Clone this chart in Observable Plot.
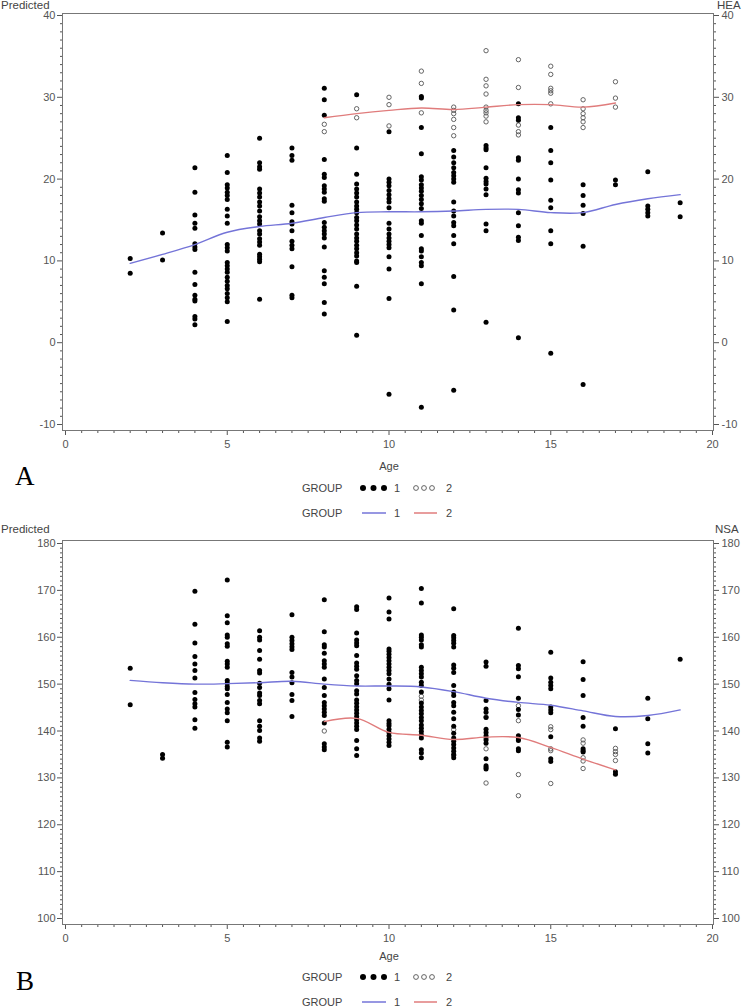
<!DOCTYPE html>
<html>
<head>
<meta charset="utf-8">
<script src="https://cdn.jsdelivr.net/npm/d3@7"></script>
<script src="https://cdn.jsdelivr.net/npm/@observablehq/plot@0.6"></script>
<style>
  html, body { margin: 0; padding: 0; background: #fff; }
  #wrap { position: relative; width: 747px; height: 1008px; overflow: hidden;
          font-family: "Liberation Sans", Arial, sans-serif; color: #444; }
  .abs { position: absolute; line-height: 1; white-space: nowrap; }
  .lbl { font-size: 11.5px; }
  .small { font-size: 11px; }
  .panel { font-family: "Liberation Serif", "Times New Roman", serif; font-size: 27px; color: #000; }
  .plot { position: absolute; left: 0; }
</style>
</head>
<body>
<div id="wrap"></div>
<script>
// ---------- Panel A (HEA) ----------
const xTicks = [0, 5, 10, 15, 20];
const heaTicks = [-10, 0, 10, 20, 30, 40];
const heaAges1 = [2, 3, 4, 5, 6, 7, 8, 9, 10, 11, 12, 13, 14, 15, 16, 17, 18, 19];
const heaG1 = [
  [10.3, 8.5],
  [13.4, 10.1],
  [21.4, 18.4, 15.6, 14.6, 14.0, 12.1, 11.7, 11.4, 8.6, 7.1, 5.8, 5.3, 5.1, 3.2, 2.9, 2.2],
  [22.9, 20.8, 19.3, 18.9, 18.4, 18.0, 17.5, 16.3, 15.5, 14.6, 12.0, 11.6, 11.2, 9.8, 9.4, 9.0, 8.6, 8.0, 7.5, 7.0, 6.6, 6.0, 5.5, 5.0, 2.6],
  [25.0, 22.0, 21.5, 21.2, 18.8, 18.3, 17.8, 17.2, 16.7, 16.1, 15.4, 14.9, 14.5, 13.7, 13.3, 12.7, 12.3, 11.9, 10.8, 10.5, 10.2, 9.9, 5.3],
  [23.8, 22.9, 22.3, 16.8, 15.9, 14.8, 14.5, 13.7, 12.4, 11.9, 11.5, 9.3, 5.8, 5.5],
  [31.1, 29.7, 27.8, 22.4, 20.6, 20.2, 19.2, 18.8, 18.4, 17.6, 17.3, 14.7, 14.1, 13.7, 13.3, 12.8, 11.7, 8.8, 8.0, 7.2, 4.9, 3.5],
  [30.3, 23.8, 20.6, 19.4, 18.8, 18.3, 17.8, 17.2, 16.7, 16.3, 15.9, 15.3, 14.9, 14.4, 13.9, 13.3, 12.8, 12.4, 11.9, 11.5, 11.0, 10.6, 10.0, 9.8, 6.9, 0.9],
  [25.8, 20.0, 19.6, 19.2, 18.6, 18.1, 17.6, 17.2, 16.5, 14.6, 13.9, 13.3, 12.8, 12.4, 12.0, 11.6, 10.5, 9.0, 5.4, -6.3],
  [30.1, 29.9, 26.3, 23.1, 20.3, 19.9, 19.3, 18.9, 18.5, 18.0, 17.5, 17.0, 16.4, 14.9, 14.6, 13.1, 11.5, 11.2, 10.5, 9.8, 9.4, 7.2, -7.9],
  [23.5, 22.7, 22.0, 21.4, 20.8, 20.4, 20.0, 19.6, 17.2, 16.1, 15.5, 14.7, 14.3, 13.1, 12.1, 8.1, 4.0, -5.8],
  [24.1, 23.8, 23.6, 21.4, 20.1, 19.7, 19.4, 18.8, 18.1, 14.5, 13.7, 2.5],
  [29.2, 27.5, 27.2, 22.6, 22.3, 20.0, 18.7, 18.3, 15.9, 14.3, 12.9, 12.5, 0.6],
  [26.3, 23.5, 22.0, 19.9, 17.4, 16.5, 13.7, 12.1, -1.3],
  [19.3, 18.0, 16.8, 15.8, 11.8, -5.1],
  [19.9, 19.3],
  [20.9, 16.7, 16.3, 15.9, 15.5],
  [17.1, 15.4]
];
const heaAges2 = [8, 9, 10, 11, 12, 13, 14, 15, 16, 17];
const heaG2 = [
  [26.7, 25.8],
  [28.6, 27.5],
  [30.0, 29.1, 26.5],
  [33.2, 31.7, 28.1],
  [28.8, 28.4, 28.0, 27.3, 26.3, 25.3],
  [35.7, 32.2, 31.4, 30.4, 28.8, 28.4, 28.1, 27.7, 27.0],
  [34.6, 31.2, 26.6, 25.8, 25.4],
  [33.8, 32.8, 31.1, 30.8, 30.5, 29.2],
  [29.7, 28.6, 28.0, 27.5, 27.0, 26.3],
  [31.9, 29.9, 28.8]
];
const heaFit1 = [9.7, 10.8, 12.0, 13.5, 14.2, 14.6, 15.3, 15.9, 16.0, 16.0, 16.1, 16.3, 16.3, 15.9, 15.9, 16.9, 17.6, 18.1];
const heaFit2 = [27.5, 28.0, 28.4, 28.7, 28.5, 28.8, 29.1, 29.1, 28.8, 29.3];

// ---------- Panel B (NSA) ----------
const nsaTicks = [100, 110, 120, 130, 140, 150, 160, 170, 180];
const nsaAges1 = [2, 3, 4, 5, 6, 7, 8, 9, 10, 11, 12, 13, 14, 15, 16, 17, 18, 19];
const nsaG1 = [
  [153.4, 145.6],
  [135.0, 134.2],
  [169.8, 162.8, 158.8, 155.9, 154.3, 152.9, 151.3, 148.2, 146.7, 145.8, 145.1, 142.4, 140.6],
  [172.2, 164.6, 163.1, 160.5, 160.0, 158.6, 158.1, 154.9, 154.3, 153.6, 150.8, 150.2, 149.5, 149.0, 147.8, 146.1, 144.7, 143.9, 142.2, 137.6, 136.6],
  [161.4, 160.0, 159.4, 157.2, 155.3, 152.9, 152.4, 150.2, 149.3, 148.1, 147.6, 146.5, 145.8, 142.2, 141.0, 140.1, 138.5, 137.8],
  [164.8, 160.0, 159.3, 158.6, 158.0, 157.4, 152.5, 151.5, 150.3, 147.8, 146.5, 143.1],
  [168.0, 161.2, 158.4, 157.9, 156.6, 155.0, 154.3, 153.6, 151.1, 149.3, 147.6, 146.1, 145.4, 144.7, 144.0, 143.3, 141.7, 137.3, 136.6, 136.0],
  [166.5, 165.9, 160.9, 159.4, 158.8, 158.2, 156.1, 154.5, 153.8, 153.2, 151.8, 150.8, 150.1, 148.6, 147.9, 146.6, 145.9, 145.2, 144.5, 143.8, 143.1, 142.4, 141.7, 141.0, 140.3, 138.0, 136.2, 134.8],
  [168.4, 165.4, 163.9, 157.5, 157.0, 156.4, 155.7, 155.0, 154.3, 153.6, 152.9, 152.2, 151.1, 150.0, 149.0, 146.6, 142.2, 141.6, 141.1, 140.4, 139.7, 139.0, 138.3, 137.6, 136.9],
  [170.4, 167.3, 160.5, 160.0, 159.4, 158.4, 157.9, 153.6, 152.9, 152.2, 151.5, 150.4, 149.7, 148.3, 146.0, 145.1, 144.4, 143.7, 142.9, 142.2, 141.3, 140.6, 139.9, 139.2, 138.5, 136.0, 135.3, 134.3],
  [166.1, 160.4, 159.9, 159.3, 158.7, 157.9, 154.1, 153.4, 152.5, 149.7, 148.3, 147.6, 146.1, 145.4, 144.0, 142.6, 141.0, 139.5, 138.5, 137.8, 137.1, 136.4, 135.7, 135.0, 134.3],
  [154.7, 153.8, 146.5, 144.7, 144.0, 142.9, 140.4, 139.7, 139.0, 138.1, 137.4, 134.1, 132.6, 132.2, 131.9],
  [161.9, 154.0, 153.3, 151.6, 147.0, 144.6, 143.4, 139.0, 138.3, 138.0, 136.2, 135.8],
  [156.8, 151.3, 150.4, 149.7, 149.0, 145.1, 144.5, 143.9, 138.8, 134.1, 133.5],
  [154.8, 151.0, 147.6, 142.9, 141.0, 136.2, 135.8, 135.5],
  [140.5, 131.3, 130.8],
  [147.0, 142.6, 137.3, 135.3],
  [155.3]
];
const nsaAges2 = [8, 11, 12, 13, 14, 15, 16, 17];
const nsaG2 = [
  [140.0],
  [147.4, 146.6],
  [140.3, 134.8],
  [143.0, 138.5, 136.2, 128.9],
  [145.4, 142.2, 130.7, 126.2],
  [140.9, 140.3, 136.2, 135.8, 128.8],
  [138.1, 137.4, 134.3, 133.6, 132.0],
  [136.3, 135.6, 135.0, 133.7]
];
const nsaFit1 = [150.8, 150.3, 150.0, 150.1, 150.3, 150.6, 150.0, 149.6, 149.6, 149.4, 148.4, 147.0, 146.1, 145.5, 144.3, 143.1, 143.3, 144.5];
const nsaFit2 = [142.0, 142.7, 139.7, 139.1, 138.2, 138.7, 138.6, 136.5, 134.0, 131.7];
const nsaFitAges2 = [8, 9, 10, 11, 12, 13, 14, 15, 16, 17];

// ---------- helpers ----------
const blue = "#7474d8";
const red = "#e07c7c";
const flat = (ages, vals) => ages.flatMap((a, i) => vals[i].map(v => ({age: a, value: v})));
const pairs = (ages, vals) => ages.map((a, i) => ({age: a, value: vals[i]}));
const fmt = d => String(d);

function panel(o) {
  const minorY = d3.range(o.yMin, o.yMax + 0.001, 1).filter(v => (v - o.yMin) % 10 !== 0);
  const minorX = d3.range(0, 20.001, 0.5).filter(v => v % 5 !== 0);
  const svg = Plot.plot({
    width: 747,
    height: o.height,
    marginLeft: 62,
    marginRight: 34,
    marginTop: o.marginTop,
    marginBottom: o.marginBottom,
    x: {domain: [0, 20], insetLeft: 3, insetRight: 1},
    y: {domain: [o.yMin, o.yMax], insetTop: o.insetTop, insetBottom: o.insetBottom},
    style: {fontFamily: "'Liberation Sans', Arial, sans-serif", fontSize: "11px", color: "#555", background: "transparent"},
    marks: [
      Plot.axisX({ticks: xTicks, tickSize: 5, tickPadding: 5, tickFormat: fmt, label: null}),
      Plot.axisX({ticks: minorX, tickSize: 3, tickFormat: () => "", label: null}),
      Plot.axisY({anchor: "left", ticks: o.yTicks, tickSize: 5, tickPadding: 2, tickFormat: fmt, label: null}),
      Plot.axisY({anchor: "left", ticks: minorY, tickSize: 2, tickFormat: () => "", label: null}),
      Plot.axisY({anchor: "right", ticks: o.yTicks, tickSize: 5, tickPadding: 3, tickFormat: fmt, label: null}),
      Plot.axisY({anchor: "right", ticks: minorY, tickSize: 2, tickFormat: () => "", label: null}),
      Plot.frame({stroke: "#777", strokeWidth: 1}),
      Plot.dot(o.g2, {x: "age", y: "value", r: 2.2, stroke: "#555", strokeWidth: 0.9, fill: "none"}),
      Plot.dot(o.g1, {x: "age", y: "value", r: 2.5, fill: "#000", stroke: "none"}),
      Plot.line(o.fit1, {x: "age", y: "value", stroke: blue, strokeWidth: 1.4, curve: "catmull-rom"}),
      Plot.line(o.fit2, {x: "age", y: "value", stroke: red, strokeWidth: 1.4, curve: "catmull-rom"})
    ]
  });
  svg.classList.add("plot");
  svg.style.top = o.top + "px";
  return svg;
}

const wrap = document.getElementById("wrap");

wrap.appendChild(panel({
  top: 0, height: 475, marginTop: 13, marginBottom: 45, insetTop: 2, insetBottom: 6,
  yMin: -10, yMax: 40, yTicks: heaTicks,
  g1: flat(heaAges1, heaG1), g2: flat(heaAges2, heaG2),
  fit1: pairs(heaAges1, heaFit1), fit2: pairs(heaAges2, heaFit2)
}));

wrap.appendChild(panel({
  top: 530, height: 445, marginTop: 10, marginBottom: 51, insetTop: 3, insetBottom: 6,
  yMin: 100, yMax: 180, yTicks: nsaTicks,
  g1: flat(nsaAges1, nsaG1), g2: flat(nsaAges2, nsaG2),
  fit1: pairs(nsaAges1, nsaFit1), fit2: pairs(nsaFitAges2, nsaFit2)
}));

function addText(txt, cls, left, top, center) {
  const d = document.createElement("div");
  d.className = "abs " + cls;
  d.textContent = txt;
  d.style.left = left + "px";
  d.style.top = top + "px";
  if (center) d.style.transform = "translateX(-50%)";
  wrap.appendChild(d);
  return d;
}

function addSvg(left, top, w, h, inner) {
  const ns = "http://www.w3.org/2000/svg";
  const s = document.createElementNS(ns, "svg");
  s.setAttribute("width", w);
  s.setAttribute("height", h);
  s.style.position = "absolute";
  s.style.left = left + "px";
  s.style.top = top + "px";
  s.innerHTML = inner;
  wrap.appendChild(s);
}

function legends(y1, y2) {
  // marker legend
  addText("GROUP", "small", 302, y1 - 5.5);
  addSvg(358, y1 - 5, 32, 10,
    [363, 373.5, 384].map(c => `<circle cx="${c - 358}" cy="5" r="3" fill="#000"/>`).join(""));
  addText("1", "small", 394, y1 - 5.5);
  addSvg(410, y1 - 5, 30, 10,
    [416, 424, 432].map(c => `<circle cx="${c - 410}" cy="5" r="2.4" fill="none" stroke="#555" stroke-width="0.9"/>`).join(""));
  addText("2", "small", 446, y1 - 5.5);
  // line legend
  addText("GROUP", "small", 302, y2 - 5.5);
  addSvg(360, y2 - 5, 30, 10, `<line x1="2" x2="26" y1="5" y2="5" stroke="${blue}" stroke-width="1.5"/>`);
  addText("1", "small", 394, y2 - 5.5);
  addSvg(412, y2 - 5, 30, 10, `<line x1="2" x2="25" y1="5" y2="5" stroke="${red}" stroke-width="1.5"/>`);
  addText("2", "small", 446, y2 - 5.5);
}

// Panel A texts
addText("Predicted", "lbl", 1, 0);
addText("HEA", "lbl", 717, 0);
addText("Age", "small", 389, 461, true);
addText("A", "panel", 15, 463);
legends(488, 513);

// Panel B texts
addText("Predicted", "lbl", 1, 524);
addText("NSA", "lbl", 715, 524);
addText("Age", "small", 389, 951, true);
addText("B", "panel", 16, 968);
legends(977, 1002);
</script>
</body>
</html>
